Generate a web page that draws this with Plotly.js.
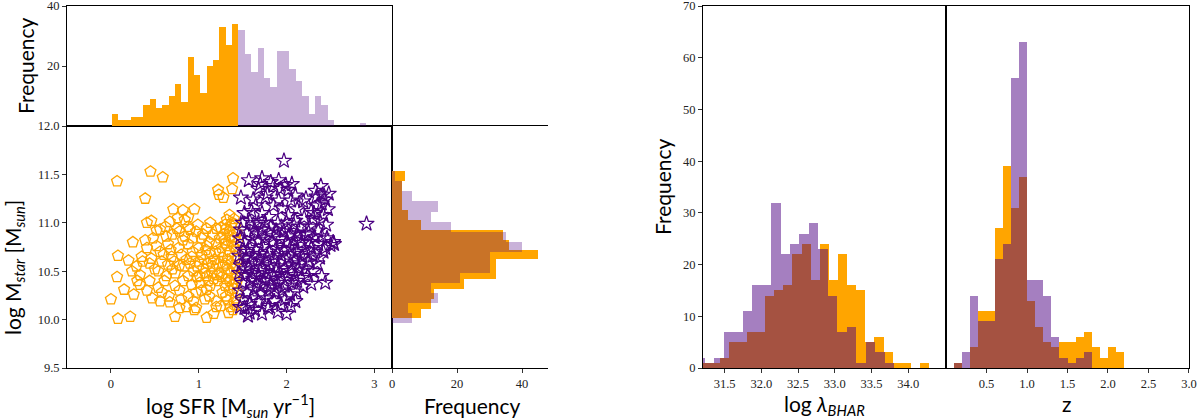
<!DOCTYPE html>
<html>
<head>
<meta charset="utf-8">
<script src="https://cdn.plot.ly/plotly-3.0.1.min.js"></script>
<style>html,body{margin:0;padding:0;background:#fff;}#chart{width:1200px;height:420px;}</style>
</head>
<body>
<div id="chart"></div>
<script>
// ---------- DATA ----------
// Scatter: [log SFR, log Mstar]
const orangePoints = [
[0.07,11.43],[0.45,11.53],[0.59,11.47],[0.39,11.25],[1.39,11.46],[1.22,11.34],[1.38,11.35],[1.23,11.29],[1.28,11.26],
[0.71,11.14],[0.82,11.13],[0.95,11.14],[0.76,11.05],[0.88,11.06],[0.84,11.03],[0.41,11.0],[0.46,11.02],[0.67,11.01],[1.35,11.08],[1.32,11.03],
[0.56,10.93],[0.75,10.94],[0.78,10.91],[0.90,10.93],[0.97,10.91],[1.09,10.94],[1.20,10.94],[1.31,10.94],[1.37,10.97],[0.25,10.8],[0.39,10.82],[0.48,10.84],[0.63,10.86],[0.84,10.86],[1.03,10.84],[1.16,10.88],[1.28,10.88],
[0.08,10.66],[0.20,10.61],[0.41,10.74],[0.52,10.76],[0.65,10.78],[0.77,10.74],[0.88,10.78],[1.0,10.74],[1.09,10.76],[1.20,10.78],[1.30,10.79],[1.37,10.81],[0.35,10.65],[0.46,10.63],[0.60,10.67],[0.69,10.65],[0.80,10.67],[0.92,10.65],[1.03,10.67],[1.12,10.68],[1.24,10.70],[1.35,10.70],
[0.07,10.44],[0.29,10.55],[0.33,10.46],[0.44,10.58],[0.54,10.50],[0.65,10.57],[0.73,10.48],[0.84,10.55],[0.94,10.50],[1.05,10.53],[1.16,10.55],[1.28,10.56],[1.37,10.58],[0.63,10.45],[0.88,10.45],[1.09,10.45],[1.24,10.48],[1.37,10.48],
[0.15,10.31],[0.33,10.36],[0.44,10.40],[0.54,10.33],[0.61,10.40],[0.73,10.35],[0.82,10.40],[0.92,10.36],[1.01,10.38],[1.13,10.35],[1.22,10.40],[1.30,10.35],[1.38,10.36],[0.41,10.30],[0.78,10.30],[0.97,10.28],[1.09,10.31],
[0.26,10.26],[0.0,10.21],[0.56,10.19],[0.67,10.18],[0.80,10.21],[0.94,10.19],[1.07,10.21],[1.20,10.19],[1.31,10.24],[1.36,10.13],[0.86,10.13],[0.97,10.12],[1.20,10.13],
[0.08,10.01],[0.22,10.03],[0.73,10.03],[1.09,10.02],[1.17,10.06],[1.34,10.07],[0.78,10.12],[0.95,10.10],
[1.40,11.04],[1.42,10.98],[1.43,10.90],[1.41,10.85],[1.44,10.80],[1.40,10.75],[1.43,10.72],[1.41,10.66],[1.44,10.62],[1.42,10.55],[1.40,10.52],[1.44,10.45],[1.41,10.42],[1.43,10.38],[1.40,10.32],[1.44,10.28],[1.42,10.22],[1.40,10.18],[1.43,10.15],[1.39,10.10],
[1.33,10.62],[1.30,10.58],[1.27,10.64],[1.33,10.52],[1.26,10.44],[1.31,10.42],[1.35,10.40],[1.18,10.62],[1.22,10.58],[1.14,10.60],[1.26,10.74],[1.32,10.76],[1.36,10.86],[1.29,10.82],[1.24,10.84],[1.19,10.70],[1.15,10.48],[1.21,10.46],[1.35,10.30],[1.27,10.28],[1.33,10.20],[1.25,10.14],[1.38,11.0],[1.35,10.92],[1.30,10.98],[1.25,10.95],
[1.12,10.80],[1.06,10.62],[1.0,10.60],[0.98,10.44],[1.03,10.30],[1.08,10.72],[0.93,10.70],[0.86,10.62],[0.72,10.60],[0.58,10.60],[0.50,10.52],[0.36,10.60],[0.30,10.40],[0.24,10.50],[0.52,10.92],[0.62,10.96],[0.70,10.88],[0.93,10.84],[1.05,10.88],[0.99,10.98],[1.13,11.0],
[0.56,10.70],[0.68,10.72],[0.82,10.82],[0.47,10.22],[0.58,10.28],[0.66,10.24],[0.88,10.24],[1.12,10.24],[0.88,10.96],[0.70,10.52],[0.78,10.56],[0.98,10.55],[1.10,10.58],[0.90,10.58],[1.17,10.42],[1.11,10.40],[1.07,10.48],[1.01,10.45]
];
const purplePoints = [
[1.97,11.64],[1.57,11.44],[1.72,11.46],[1.91,11.44],[1.99,11.39],[1.48,11.26],[1.62,11.24],[1.78,11.30],[1.91,11.23],[2.05,11.23],[2.19,11.22],[2.39,11.38],[2.34,11.27],[2.41,11.29],[2.44,11.24],[2.47,11.14],[2.91,10.99],[2.53,10.80],[2.50,10.77],[2.54,10.78],[2.30,10.66],[2.38,10.64],[2.44,10.38],[2.28,10.37],[2.19,10.34],[2.11,10.29],[2.10,10.19],[2.0,10.06],[1.79,10.12],[1.58,10.07],[1.47,10.13],[1.98,10.21],
[1.85,11.38],[1.93,11.35],[2.02,11.34],[1.68,11.35],[1.76,11.26],[1.65,11.18],[1.85,11.18],[1.95,11.15],[2.12,11.14],[2.28,11.12],[2.35,11.18],[2.42,11.08],[2.38,11.02],[1.52,11.10],[1.60,11.12],[1.72,11.10],[1.80,11.06],[2.02,11.08],[2.20,11.05],[2.30,11.04],[2.45,10.98],[1.50,11.0],[1.58,11.02],[1.68,11.0],[1.90,11.0],[2.08,10.98],[2.15,10.96],[2.26,10.96],[2.36,10.92],
[1.48,10.93],[1.55,10.90],[1.63,10.92],[1.72,10.93],[1.80,10.90],[1.88,10.92],[1.97,10.91],[2.05,10.88],[2.12,10.89],[2.22,10.88],[2.32,10.85],[2.40,10.86],[2.46,10.84],[1.47,10.84],[1.52,10.80],[1.60,10.83],[1.68,10.82],[1.75,10.84],[1.84,10.80],[1.93,10.83],[2.0,10.80],[2.09,10.82],[2.17,10.79],[2.26,10.80],[2.36,10.78],[2.44,10.74],
[1.50,10.72],[1.58,10.74],[1.65,10.72],[1.73,10.75],[1.80,10.70],[1.88,10.74],[1.96,10.72],[2.04,10.74],[2.12,10.70],[2.20,10.72],[2.28,10.74],[1.46,10.66],[1.54,10.64],[1.62,10.66],[1.70,10.62],[1.78,10.65],[1.86,10.63],[1.94,10.66],[2.02,10.64],[2.10,10.62],[2.18,10.65],[2.25,10.60],
[1.48,10.56],[1.56,10.55],[1.64,10.57],[1.72,10.54],[1.81,10.56],[1.90,10.55],[1.98,10.53],[2.06,10.56],[2.14,10.54],[2.22,10.52],[1.46,10.48],[1.53,10.46],[1.60,10.48],[1.68,10.45],[1.76,10.48],[1.85,10.46],[1.93,10.47],[2.01,10.44],[2.09,10.46],[2.17,10.43],
[1.50,10.38],[1.58,10.40],[1.66,10.37],[1.74,10.40],[1.82,10.36],[1.90,10.38],[1.98,10.35],[2.06,10.38],[1.47,10.30],[1.55,10.28],[1.63,10.31],[1.71,10.27],[1.80,10.30],[1.88,10.28],[1.95,10.30],[2.04,10.26],
[1.50,10.20],[1.60,10.22],[1.68,10.18],[1.76,10.22],[1.86,10.19],[1.94,10.15],[2.05,10.14],[1.52,10.12],[1.64,10.10],[1.90,10.08],[1.56,10.04],
[1.62,10.98],[1.75,11.0],[1.82,10.96],[1.94,10.96],[2.0,11.0],[2.1,11.02],[1.67,10.88],[1.85,10.86],[2.02,10.86],[2.16,10.84],[1.55,10.70],[1.70,10.68],[1.90,10.68],[2.08,10.68],[2.24,10.68],[1.59,10.60],[1.76,10.60],[1.96,10.60],[2.15,10.58],[1.52,10.52],[1.70,10.50],[1.88,10.50],[2.05,10.50],[1.62,10.42],[1.80,10.42],[1.96,10.41],[2.12,10.40],[1.70,10.34],[1.86,10.33],[1.58,10.16],[1.80,10.14],[1.72,10.06],
[2.25,10.90],[2.31,11.10],[2.40,11.20],[2.48,11.30],[2.33,11.33],[2.22,11.25],[2.10,11.28],[1.82,11.42],[1.70,11.40],[2.06,11.40],[2.42,10.70],[2.35,10.58],[2.30,10.50],[2.24,10.45],[2.40,10.45]
];

// Top histogram (log SFR)
const sfrOrangeStart = 0.0076, sfrOrangeWidth = 0.0722;
const sfrOrangeCounts = [4,2,2,3,3,7,9,6,7,10,14,8,23,17,11,20,22,33,27,34];
const sfrPurpleStart = 1.451, sfrPurpleWidth = 0.0727;
const sfrPurpleCounts = [32,24,18,26,16,13,25,25,19,15,10,4,10,7,2,0,0,0,0,1];

// Right histogram (log Mstar)
const mOrangeStart = 10.013, mOrangeWidth = 0.1015;
const mOrangeCounts = [9,12,13,22,32,32,45,36,34,9,5,3,3,3,4];
const mPurpleStart = 9.962, mPurpleWidth = 0.1049;
const mPurpleCounts = [6,5,14,12,21,30,30,40,35,18,12,14,6,3,1];

// log lambda_BHAR histogram
const lamOrangeStart = 31.184, lamOrangeWidth = 0.124;
const lamOrangeCounts = [1,1,2,5,5,7,7,14,15,16,22,24,17,24,17,22,16,15,5,6,3,1,1,0,1];
const lamPurpleStart = 31.10, lamPurpleWidth = 0.129;
const lamPurpleCounts = [2,1,2,7,7,11,16,16,32,22,24,26,28,23,14,7,8,1,5,3,1];

// z histogram
const zOrangeStart = 0.1, zOrangeWidth = 0.1;
const zOrangeCounts = [1,0,4,11,11,27,39,31,37,13,8,5,4,5,5,6,7,4,2,4,3];
const zPurpleStart = 0.1, zPurpleWidth = 0.1;
const zPurpleCounts = [1,3,14,9,9,21,24,56,63,17,17,14,6,2,1,2,3];

// Tick labels
const sfrTicks = [0,1,2,3];
const mTicks = [9.5,10.0,10.5,11.0,11.5,12.0];
const topFreqTicks = [20,40];
const rightFreqTicks = [0,20,40];
const lamTicks = [31.5,32.0,32.5,33.0,33.5,34.0];
const zTicks = [0.5,1.0,1.5,2.0,2.5,3.0];
const freqTicks = [0,10,20,30,40,50,60,70];

// ---------- STYLE / BUILD ----------
const ORANGE = '#FFA500';
const INDIGO = '#4B0082';
const PURPLE_LIGHT = 'rgba(75,0,130,0.3)';
const PURPLE_MID = 'rgba(75,0,130,0.5)';

function centers(start, w, counts){ return counts.map((c,i)=> start + (i+0.5)*w); }
function vbar(start,w,counts,color,xa,ya){
  return {type:'bar', x:centers(start,w,counts), y:counts, width:w, marker:{color:color, line:{width:0}}, xaxis:xa, yaxis:ya, hoverinfo:'skip'};
}
function hbar(start,w,counts,color,xa,ya){
  return {type:'bar', orientation:'h', y:centers(start,w,counts), x:counts, width:w, marker:{color:color, line:{width:0}}, xaxis:xa, yaxis:ya, hoverinfo:'skip'};
}

const traces = [
  {type:'scatter', mode:'markers', x:orangePoints.map(p=>p[0]), y:orangePoints.map(p=>p[1]),
   marker:{symbol:'pentagon-open', size:11.5, color:ORANGE, line:{width:1.3, color:ORANGE}}, xaxis:'x', yaxis:'y'},
  {type:'scatter', mode:'markers', x:purplePoints.map(p=>p[0]), y:purplePoints.map(p=>p[1]),
   marker:{symbol:'star-open', size:11.5, color:INDIGO, line:{width:1.2, color:INDIGO}}, xaxis:'x', yaxis:'y'},
  vbar(sfrOrangeStart,sfrOrangeWidth,sfrOrangeCounts,ORANGE,'x2','y2'),
  vbar(sfrPurpleStart,sfrPurpleWidth,sfrPurpleCounts,PURPLE_LIGHT,'x2','y2'),
  hbar(mOrangeStart,mOrangeWidth,mOrangeCounts,ORANGE,'x3','y3'),
  hbar(mPurpleStart,mPurpleWidth,mPurpleCounts,PURPLE_LIGHT,'x3','y3'),
  vbar(lamOrangeStart,lamOrangeWidth,lamOrangeCounts,ORANGE,'x4','y4'),
  vbar(lamPurpleStart,lamPurpleWidth,lamPurpleCounts,PURPLE_MID,'x4','y4'),
  vbar(zOrangeStart,zOrangeWidth,zOrangeCounts,ORANGE,'x5','y5'),
  vbar(zPurpleStart,zPurpleWidth,zPurpleCounts,PURPLE_MID,'x5','y5')
];

const W = 1200, H = 420;
const px = v => v / W;
const py = v => 1 - v / H;
const base = {showline:true, linecolor:'#000', linewidth:1, mirror:true, ticks:'outside', ticklen:4, tickwidth:0.8, tickcolor:'#000',
  showgrid:false, zeroline:false, fixedrange:true, ticklabeloverflow:'allow',
  tickfont:{family:'Liberation Serif, DejaVu Serif, serif', size:12.5, color:'#222'}};
const ax = o => Object.assign({}, base, o);

const scY = [py(368), py(126)];
const titleFont = {family:'Lato, Open Sans, sans-serif', size:21, color:'#000'};
function ann(text, x, y, rot){
  return {text:text, x:px(x), y:py(y), xref:'paper', yref:'paper', showarrow:false, xanchor:'center', yanchor:'middle', textangle:rot||0, font:titleFont};
}

const layout = {
  width:W, height:H, margin:{l:0,r:0,t:0,b:0}, paper_bgcolor:'#fff', plot_bgcolor:'rgba(0,0,0,0)',
  showlegend:false, barmode:'overlay', bargap:0,
  xaxis: ax({domain:[px(67),px(392)], range:[-0.5,3.2], tickvals:sfrTicks, anchor:'y'}),
  yaxis: ax({domain:scY, range:[9.5,12.0001], tickvals:mTicks, tickformat:'.1f', anchor:'x'}),
  xaxis2: ax({domain:[px(67),px(392)], range:[-0.5,3.2], showticklabels:false, ticks:'', anchor:'y2'}),
  yaxis2: ax({domain:[py(126),py(6)], range:[0,40.001], tickvals:topFreqTicks, anchor:'x2'}),
  xaxis3: ax({domain:[px(392),px(548)], range:[0,48], tickvals:rightFreqTicks, anchor:'y3'}),
  yaxis3: ax({domain:scY, range:[9.5,12.0001], showticklabels:false, ticks:'', mirror:false, anchor:'x3'}),
  xaxis4: ax({domain:[px(703),px(946)], range:[31.206,34.514], tickvals:lamTicks, tickformat:'.1f', anchor:'y4'}),
  yaxis4: ax({domain:[py(368),py(6)], range:[0,70.001], tickvals:freqTicks, anchor:'x4'}),
  xaxis5: ax({domain:[px(946),px(1189)], range:[0,3.0001], tickvals:zTicks, tickformat:'.1f', anchor:'y5'}),
  yaxis5: ax({domain:[py(368),py(6)], range:[0,70.001], showticklabels:false, ticks:'', anchor:'x5'}),
  annotations:[
    ann('Frequency', 25, 66, -90),
    ann('log M<sub><i>star</i></sub> [M<sub><i>sun</i></sub>]', 14, 268, -90),
    ann('log SFR [M<sub><i>sun</i></sub> yr<sup>−1</sup>]', 230, 405),
    ann('Frequency', 472, 405),
    ann('Frequency', 662, 187, -90),
    ann('log <i>λ</i><sub><i>BHAR</i></sub>', 824, 405),
    ann('z', 1067, 403)
  ]
};

Plotly.newPlot('chart', traces, layout, {staticPlot:true, displayModeBar:false});
</script>
</body>
</html>
